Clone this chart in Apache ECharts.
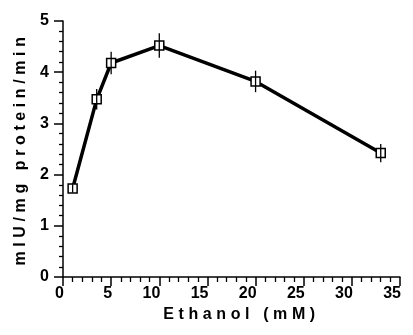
<!DOCTYPE html>
<html>
<head>
<meta charset="utf-8">
<script src="https://cdn.jsdelivr.net/npm/echarts@6/dist/echarts.min.js"></script>
<style>html,body{margin:0;padding:0;background:#fff}#c{width:413px;height:335px}</style>
</head>
<body>
<div id="c"></div>
<script>
const ethanol = [1, 3.5, 5, 10, 20, 33];
const activity = [1.73, 3.47, 4.18, 4.52, 3.82, 2.42];
const errors = [0.08, 0.2, 0.22, 0.24, 0.21, 0.18];
const xTicks = [0, 5, 10, 15, 20, 25, 30, 35];
const yTicks = [0, 1, 2, 3, 4, 5];
const xName = 'Ethanol (mM)';
const yName = 'mIU/mg protein/min';

// widen letter spacing of the axis titles only, as in the reference typesetting
(function () {
  const proto = CanvasRenderingContext2D.prototype;
  const orig = proto.fillText;
  proto.fillText = function (text, x, y, maxW) {
    if ('letterSpacing' in this) {
      this.letterSpacing = (text === xName || text === yName) ? '4.6px' : '0px';
    }
    return maxW === undefined ? orig.call(this, text, x, y) : orig.call(this, text, x, y, maxW);
  };
})();

const chart = echarts.init(document.getElementById('c'), null, {renderer: 'canvas'});
const tickFont = {fontFamily: 'Liberation Sans, Arial, sans-serif', fontWeight: 'bold', fontSize: 16, color: '#000'};
const nameFont = {fontFamily: 'Liberation Sans, Arial, sans-serif', fontWeight: 'bold', fontSize: 16, color: '#000'};

chart.setOption({
  animation: false,
  backgroundColor: '#fff',
  grid: {left: 63, right: 13, top: 21, bottom: 58, containLabel: false},
  xAxis: {
    type: 'value', min: xTicks[0], max: xTicks[xTicks.length - 1], interval: 5,
    name: xName, nameLocation: 'middle', nameGap: 30,
    nameTextStyle: Object.assign({padding: [0, 0, 0, 20]}, nameFont),
    axisLine: {show: true, onZero: false, lineStyle: {color: '#000', width: 1.5}},
    axisTick: {show: true, inside: false, length: 9, lineStyle: {color: '#000', width: 1.5}},
    minorTick: {show: true, splitNumber: 5, length: 5, lineStyle: {color: '#000', width: 1.3}},
    axisLabel: Object.assign({margin: 9, align: 'right', padding: [0, -1, 0, 0]}, tickFont),
    splitLine: {show: false}
  },
  yAxis: {
    type: 'value', min: yTicks[0], max: yTicks[yTicks.length - 1], interval: 1,
    name: yName, nameLocation: 'middle', nameGap: 34, nameTextStyle: nameFont,
    axisLine: {show: true, onZero: false, lineStyle: {color: '#000', width: 1.5}},
    axisTick: {show: true, inside: false, length: 9, lineStyle: {color: '#000', width: 1.5}},
    minorTick: {show: true, splitNumber: 5, length: 4, lineStyle: {color: '#000', width: 1.3}},
    axisLabel: Object.assign({margin: 14}, tickFont),
    splitLine: {show: false}
  },
  series: [
    {
      type: 'custom',
      z: 3,
      data: ethanol.map((x, i) => [x, activity[i], errors[i]]),
      renderItem: function (params, api) {
        const x = api.value(0), y = api.value(1), e = api.value(2);
        const p1 = api.coord([x, y + e]);
        const p2 = api.coord([x, y - e]);
        return {
          type: 'line',
          shape: {x1: p1[0], y1: p1[1], x2: p2[0], y2: p2[1]},
          style: {stroke: '#000', lineWidth: 1.3}
        };
      }
    },
    {
      type: 'line',
      z: 2,
      data: ethanol.map((x, i) => [x, activity[i]]),
      symbol: 'rect',
      symbolSize: 9,
      lineStyle: {color: '#000', width: 3.5},
      itemStyle: {color: '#fff', borderColor: '#000', borderWidth: 1.5},
      emphasis: {disabled: true}
    }
  ]
});
</script>
</body>
</html>
